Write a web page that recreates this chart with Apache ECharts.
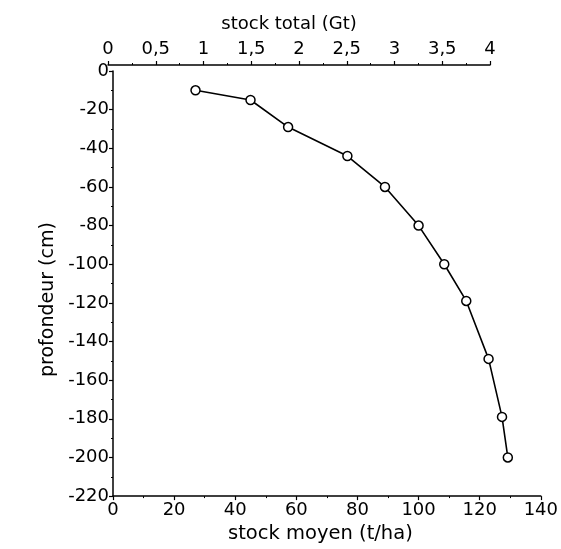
<!DOCTYPE html>
<html><head><meta charset="utf-8">
<script src="https://cdn.jsdelivr.net/npm/echarts@6/dist/echarts.min.js"></script>
<style>html,body{margin:0;padding:0;background:#fff}#c{width:561px;height:549px}</style>
</head><body><div id="c"></div>
<script>
const stockMoyen = [27, 45, 57.3, 76.7, 89, 100, 108.4, 115.6, 122.9, 127.3, 129.2];
const profondeur = [-10, -15, -29, -44, -60, -80, -100, -119, -149, -179, -200];
const xTitle = 'stock moyen (t/ha)';
const topTitle = 'stock total (Gt)';
const yTitle = 'profondeur (cm)';

const font = 'DejaVu Sans';
const fs = 18;
const axisCommon = {
  axisLine: {show: true, onZero: false, lineStyle: {color: '#000', width: 1.5}},
  axisTick: {show: true, inside: false, length: 4, lineStyle: {color: '#000', width: 1.2}},
  minorTick: {show: true, splitNumber: 2, length: 2, lineStyle: {color: '#000', width: 1}},
  splitLine: {show: false},
  axisLabel: {color: '#000', fontFamily: font, fontSize: fs},
  nameTextStyle: {color: '#000', fontFamily: font, fontSize: fs}
};
const chart = echarts.init(document.getElementById('c'));
chart.setOption({
  animation: false,
  backgroundColor: '#fff',
  grid: [
    {left: 113, right: 17, top: 71, bottom: 48},
    {left: 108, right: 71, top: 65, height: 1}
  ],
  xAxis: [
    Object.assign({}, axisCommon, {
      type: 'value', gridIndex: 0, position: 'bottom', min: 0, max: 140, interval: 20,
      name: xTitle, nameLocation: 'middle', nameGap: 22,
      nameTextStyle: Object.assign({}, axisCommon.nameTextStyle, {fontSize: 19.5, padding: [0, 13, 0, 0]}),
      axisLabel: Object.assign({}, axisCommon.axisLabel, {margin: 5})
    }),
    Object.assign({}, axisCommon, {
      type: 'value', gridIndex: 1, position: 'top', min: 0, max: 4, interval: 0.5,
      name: topTitle, nameLocation: 'middle', nameGap: 32,
      nameTextStyle: Object.assign({}, axisCommon.nameTextStyle, {padding: [0, 20, 0, 0]}),
      axisLabel: Object.assign({}, axisCommon.axisLabel, {margin: 7,
        formatter: v => String(v).replace('.', ',')})
    })
  ],
  yAxis: [
    Object.assign({}, axisCommon, {
      type: 'value', gridIndex: 0, min: -220, max: 0, interval: 20,
      name: yTitle, nameLocation: 'middle', nameGap: 51,
      nameTextStyle: Object.assign({}, axisCommon.nameTextStyle, {fontSize: 19, padding: [0, 32, 0, 0]}),
      axisLabel: Object.assign({}, axisCommon.axisLabel, {margin: 4})
    }),
    {type: 'value', gridIndex: 1, show: false, min: 0, max: 1}
  ],
  series: [
    {
      type: 'line', xAxisIndex: 0, yAxisIndex: 0,
      data: stockMoyen.map((v, i) => [v, profondeur[i]]),
      symbol: 'circle', symbolSize: 9,
      lineStyle: {color: '#000', width: 1.6},
      itemStyle: {color: '#fff', borderColor: '#000', borderWidth: 1.5}
    },
    {type: 'scatter', xAxisIndex: 1, yAxisIndex: 1, data: []}
  ]
});
</script></body></html>
